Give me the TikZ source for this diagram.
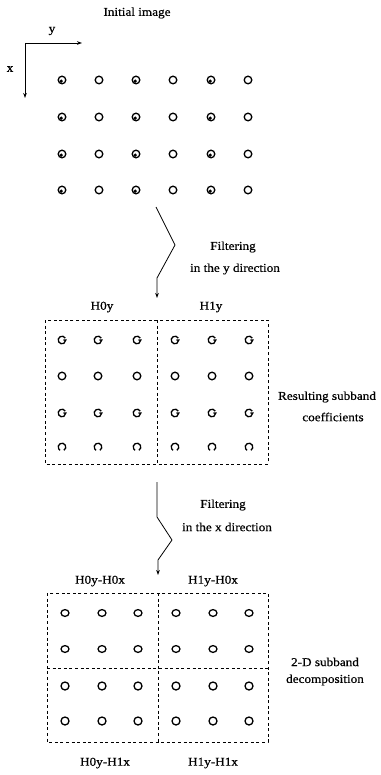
\documentclass[tikz,border=0pt]{standalone}
\usepackage{fontspec}
\setmainfont{Liberation Serif}[FakeStretch=1.1,FakeBold=0.6]
\usetikzlibrary{arrows.meta}
\begin{document}
\begin{tikzpicture}[x=1pt,y=-1pt,
  lbl/.style={font=\fontsize{12}{14}\selectfont, inner sep=0pt},
  ring/.style={line width=1.3pt},
  band/.style={dash pattern=on 3pt off 2.6pt, line width=0.9pt},
  flow/.style={line width=0.8pt, -{Stealth[length=5pt,width=3.6pt]}},
  axis/.style={line width=0.9pt, -{Stealth[length=5pt,width=3.6pt]}}]
\useasboundingbox (0,0) rectangle (380,775);

% ---- input samples ----
\node[lbl] (title) at (137,13) {Initial image};
\coordinate (origin) at (25,43);
\coordinate (yend) at (82,43);
\coordinate (xend) at (25,98);
\draw[axis] (origin) -- (yend);
\draw[axis] (origin) -- (xend);
\node[lbl] (ylab) at (52,31) {y};
\node[lbl] (xlab) at (10,69) {x};

\foreach \cx [count=\c] in {62,99,136,173,211,248}{
  \foreach \cy in {80,117,154,190}{
    \draw[ring] (\cx,\cy) circle[radius=3.8];
    \ifodd\c
      \fill (\cx-0.8,\cy+1.2) circle[radius=1.8];
    \fi
  }
}

% ---- filtering along y ----
\coordinate (yfrom) at (156,207);
\coordinate (yto) at (157,298);
\draw[flow] (yfrom) -- (175,245) -- (157,278) -- (yto);
\node[lbl] (filt1) at (233,247) {Filtering};
\node[lbl] (dir1) at (235,269) {in the y direction};

% ---- subband coefficients after y filtering ----
\node[lbl] (h0y) at (102,307) {H0y};
\node[lbl] (h1y) at (211,307) {H1y};
\draw[band] (45,320) rectangle (268,464);
\draw[band] (157,320) -- (157,464);
\foreach \cx in {62,98,137,175,212,249}{
  \foreach \cy in {340,413}{
    \draw[ring] (\cx,\cy) ++(-30:3.8) arc[start angle=-30, end angle=-360, radius=3.8] -- ++(-2.4,0);
  }
  \draw[ring] (\cx,376) circle[radius=3.8];
  \draw[ring] (\cx,447) ++(60:3.8) arc[start angle=60, end angle=-240, radius=3.8];
}
\node[lbl] (res1) at (327,397) {Resulting subband};
\node[lbl] (res2) at (333,417) {coefficients};

% ---- filtering along x ----
\coordinate (xfrom) at (157,482);
\coordinate (xto) at (158,575);
\draw[flow] (xfrom) -- (157,517) -- (172,540) -- (158,560) -- (xto);
\node[lbl] (filt2) at (223,505) {Filtering};
\node[lbl] (dir2) at (227,527) {in the x direction};

% ---- 2-D decomposition ----
\node[lbl] (ll) at (100,581) {H0y-H0x};
\node[lbl] (hl) at (213,581) {H1y-H0x};
\draw[band] (47,593) rectangle (268,742);
\draw[band] (158,593) -- (158,742);
\draw[band] (47,668) -- (268,668);
\foreach \cx in {65,102,138,176,213,249}{
  \foreach \cy in {613,649}{
    \draw[ring] (\cx,\cy) ellipse[x radius=4, y radius=3.4];
  }
  \foreach \cy in {686,721}{
    \draw[ring] (\cx,\cy) circle[radius=4];
  }
}
\node[lbl] (dec1) at (325,662) {2-D subband};
\node[lbl] (dec2) at (325,680) {decomposition};
\node[lbl] (lh) at (105,763) {H0y-H1x};
\node[lbl] (hh) at (213,763) {H1y-H1x};
\end{tikzpicture}
\end{document}
